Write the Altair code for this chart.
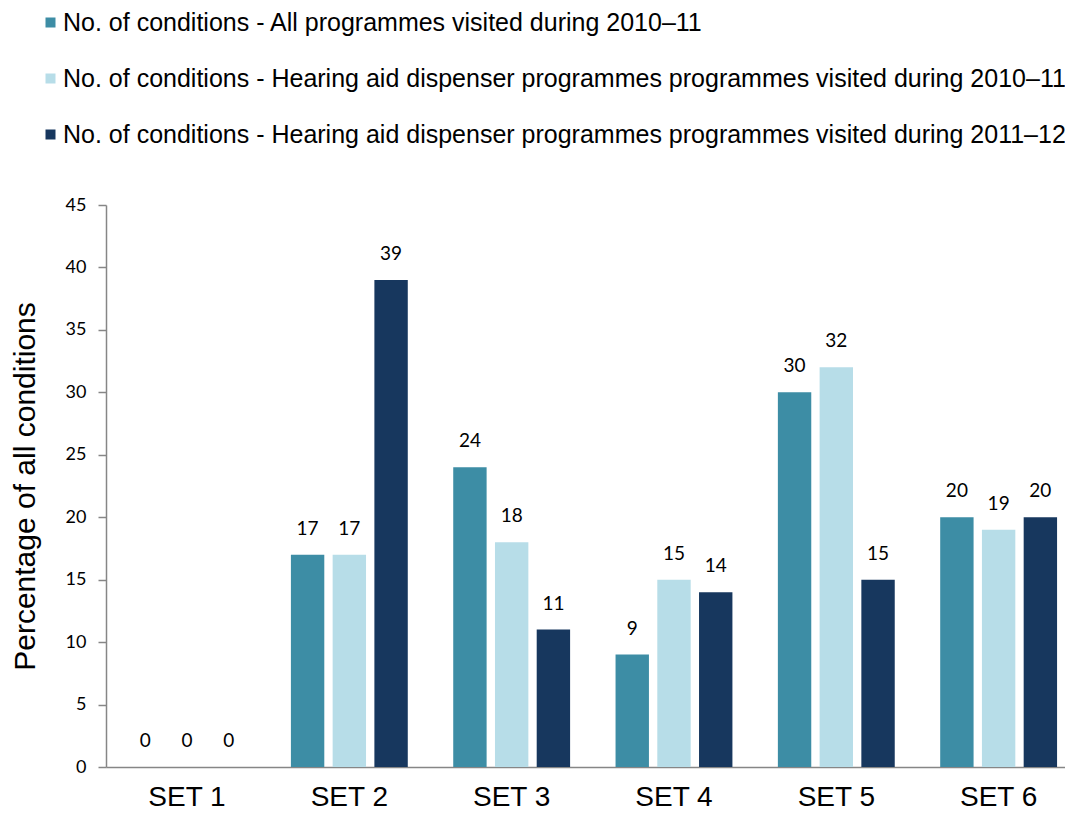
import altair as alt
import pandas as pd

categories = ["SET 1", "SET 2", "SET 3", "SET 4", "SET 5", "SET 6"]
series = [
    "No. of conditions - All programmes visited during 2010–11",
    "No. of conditions - Hearing aid dispenser programmes programmes visited during 2010–11",
    "No. of conditions - Hearing aid dispenser programmes programmes visited during 2011–12",
]
all_2010 = [0, 17, 24, 9, 30, 20]
had_2010 = [0, 17, 18, 15, 32, 19]
had_2011 = [0, 39, 11, 14, 15, 20]
colors = ["#3D8DA5", "#B7DDE8", "#17375E"]

rows = []
for vals, s, k in zip([all_2010, had_2010, had_2011], series, range(3)):
    for c, v in zip(categories, vals):
        rows.append({"set": c, "series": s, "order": k, "value": v})
df = pd.DataFrame(rows)

x = alt.X("set:N", sort=categories,
          scale=alt.Scale(paddingInner=0.28, paddingOuter=0.094, align=0.74),
          axis=alt.Axis(title=None, labelAngle=0, ticks=False, labelFont="Liberation Sans",
                        labelFontSize=28, labelColor="#000000", labelPadding=16,
                        domainColor="#868686", domainWidth=1.5))
xo = alt.XOffset("order:O", scale=alt.Scale(paddingInner=0.2, paddingOuter=0))
y = alt.Y("value:Q", scale=alt.Scale(domain=[0, 45]),
          axis=alt.Axis(title="Percentage of all conditions", values=list(range(0, 46, 5)),
                        grid=False, tickSize=8, tickColor="#868686", domainColor="#868686",
                        domainWidth=1.5, tickWidth=1.5,
                        labelFont="Lato", labelFontSize=18, labelColor="#000000", labelPadding=12,
                        titleFont="Liberation Sans", titleFontSize=30, titleFontWeight="normal",
                        titleColor="#000000", titlePadding=25))

color = alt.Color("series:N", scale=alt.Scale(domain=series, range=colors),
                  legend=alt.Legend(title=None, orient="none", legendX=-68, legendY=-195,
                                    direction="vertical", symbolType="square", symbolSize=100,
                                    symbolStrokeWidth=0, labelFont="Liberation Sans",
                                    labelFontSize=25, labelColor="#000000", labelLimit=0,
                                    rowPadding=30, labelOffset=0, padding=0))

bars = alt.Chart(df).mark_bar().encode(x=x, xOffset=xo, y=y, color=color)
labels = alt.Chart(df).mark_text(font="Lato", fontSize=19, color="#000000", dy=-26,
                                 baseline="middle").encode(
    x=x, xOffset=xo, y=y, text=alt.Text("value:Q"))

chart = (bars + labels).properties(
    width=959, height=562,
    autosize=alt.AutoSizeParams(type="none"),
    padding={"left": 98, "top": 197, "right": 0, "bottom": 46},
).configure_view(stroke=None)

chart.save("out.html", embed_options={"renderer": "svg", "actions": False})
